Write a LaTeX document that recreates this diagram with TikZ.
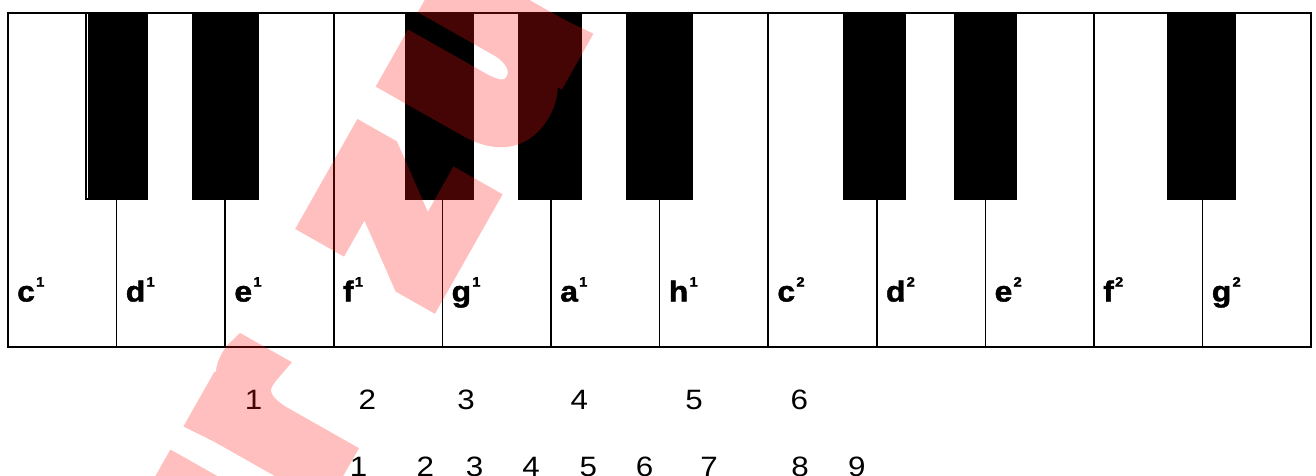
\documentclass[tikz,border=0pt]{standalone}
\usepackage{fontspec}
\setmainfont{Liberation Sans}
\newfontfamily\labelfont{Liberation Sans}[FakeStretch=1.1, BoldFeatures={FakeBold=1.5}]
\newfontfamily\numfont{Liberation Sans}[FakeStretch=1.12]
\newfontfamily\wmfont{Liberation Sans}[BoldFeatures={FakeBold=12.5}]
\definecolor{wmred}{RGB}{255,19,19}
\tikzset{
  border/.style={line width=2pt},
  divider/.style={line width=1.6pt},
  blackkey/.style={fill=black},
  keylabel/.style={anchor=base west, inner sep=0pt, font=\labelfont\bfseries\fontsize{29}{29}\selectfont},
  fingernum/.style={anchor=base, inner sep=0pt, font=\numfont\fontsize{28}{28}\selectfont},
  wmletter/.style={anchor=base west, inner sep=0pt, text=wmred, rotate=60.5, font=\wmfont\bfseries\fontsize{250}{250}\selectfont}
}
\newcommand{\keysup}[2]{#1\kern1.2pt\raisebox{15pt}{\fontsize{13.5}{13.5}\selectfont #2}}
\begin{document}
\begin{tikzpicture}[x=1pt,y=-1pt]
\useasboundingbox (0,0) rectangle (1316,475);
\fill[white] (0,0) rectangle (1316,475);
% black keys
\foreach \a/\b in {85/148,192/259,405/474,518/582,626/693,843/906,954/1017,1167/1236}
  \fill[blackkey] (\a,12.5) rectangle (\b,200);
\draw[white, line width=1pt] (87.2,14) -- (87.2,198);
% white key dividers
\foreach \i in {1,2,4,5,6,8,9,11}
  \draw[divider] ({8+108.6*\i},200) -- ({8+108.6*\i},346.5);
\foreach \i in {3,7,10}
  \draw[divider] ({8+108.6*\i},12.5) -- ({8+108.6*\i},346.5);
\draw[border] (8,12.5) rectangle (1311.2,346.5);
% key labels
\foreach \i/\n/\s in {0/c/1,1/d/1,2/e/1,3/f/1,4/g/1,5/a/1,6/h/1,7/c/2,8/d/2,9/e/2,10/f/2,11/g/2}
  \node[keylabel] (lab\i) at ({17+108.6*\i},301.5) {\keysup{\n}{\s}};
% finger numbers
\foreach \x/\t in {253.6/1,367.4/2,466/3,579.4/4,694/5,799.4/6}
  \node[fingernum] (ra\t) at (\x,409.5) {\t};
\foreach \x/\t in {358.5/1,425.4/2,474.5/3,531.2/4,588.4/5,644.5/6,709/7,800.2/8,856.9/9}
  \node[fingernum] (rb\t) at (\x,476) {\t};
% watermark
\begin{scope}[transparency group, opacity=0.27]
\clip (0,0) rectangle (1316,475);
\node[wmletter] (wm1) at (224.6,653.8) {u};
\node[wmletter] (wm2) at (312.0,499.3) {r};
\node[wmletter] (wm3) at (424.0,301.3) {z};
\node[wmletter] (wm4) at (504.3,159.4) {u};
\end{scope}
\end{tikzpicture}
\end{document}
